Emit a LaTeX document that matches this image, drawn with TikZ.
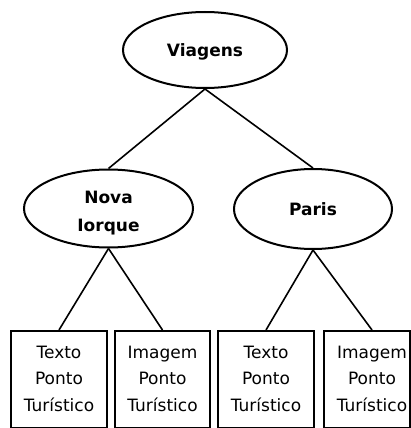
\documentclass[tikz,border=0pt]{standalone}
\usepackage{fontspec}
\setmainfont{DejaVu Sans}
\usetikzlibrary{shapes.geometric}

\tikzset{
  topic/.style={ellipse, draw, line width=2pt, inner sep=0pt,
    font=\bfseries\fontsize{17}{28}\selectfont, align=center, text depth=0pt},
  leaf/.style={rectangle, draw, line width=2pt, inner sep=0pt,
    minimum width=96pt, minimum height=97pt,
    font=\fontsize{17}{26.5}\selectfont},
  link/.style={line width=1.6pt}
}

\begin{document}
\begin{tikzpicture}[x=1pt, y=-1pt]
  \useasboundingbox (0,0) rectangle (411,428);

  % category ellipses
  \node[topic, minimum width=164pt, minimum height=76pt] (viagens) at (205,50) {Viagens};
  \node[topic, minimum width=169pt, minimum height=78pt, text height=45pt] (nova) at (108.5,208.5) {Nova\\Iorque};
  \node[topic, minimum width=158pt, minimum height=80pt] (paris) at (313,209) {Paris};

  % leaf boxes
  \node[leaf] (box1) at (59,379.5) {\begin{tabular}{@{}c@{}}Texto\\Ponto\\Turístico\end{tabular}};
  \node[leaf, minimum width=95pt] (box2) at (162.5,379.5) {\begin{tabular}{@{}c@{}}Imagem\\Ponto\\Turístico\end{tabular}};
  \node[leaf] (box3) at (266,379.5) {\begin{tabular}{@{}c@{}}Texto\\Ponto\\Turístico\end{tabular}};
  \node[leaf, minimum width=86pt] (box4) at (367,379.5) {\hspace*{10pt}\begin{tabular}{@{}c@{}}Imagem\\Ponto\\Turístico\end{tabular}};

  % tree connectors
  \draw[link] (viagens.south) -- (nova.north);
  \draw[link] (viagens.south) -- (paris.north);
  \draw[link] (nova.south) -- (box1.north);
  \draw[link] (nova.south) -- (box2.north);
  \draw[link] (paris.south) -- (box3.north);
  \draw[link] (paris.south) -- ([xshift=5pt]box4.north);
\end{tikzpicture}
\end{document}
